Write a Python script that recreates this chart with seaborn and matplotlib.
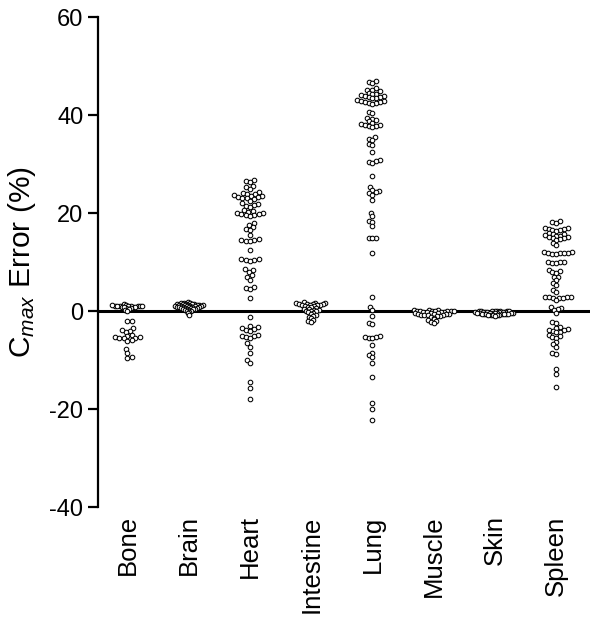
import numpy as np
import pandas as pd
import matplotlib
matplotlib.use("Agg")
import matplotlib.pyplot as plt
import seaborn as sns

categories = ["Bone", "Brain", "Heart", "Intestine", "Lung", "Muscle", "Skin", "Spleen"]

bone = [1.4, 1.2, 1.1, 1.0, 1.0, 0.9, 1.1, 1.0, 0.8, 1.2, 0.9, 1.0, 1.1, 0.7, 0.6, 0.8, 1.0, 0.5,
        0.3, 0.1,
        -2.0, -2.0, -3.4, -4.0, -4.2, -3.8, -4.8, -5.0, -5.4, -5.5, -5.6, -5.5, -5.4, -6.0, -6.1,
        -7.8, -8.6, -9.4, -9.5]
brain = [1.8, 1.7, 1.6, 1.6, 1.5, 1.5, 1.4, 1.4, 1.4, 1.3, 1.3, 1.3, 1.2, 1.2, 1.2, 1.1, 1.1, 1.1,
         1.0, 1.0, 1.0, 0.9, 0.9, 0.9, 0.8, 0.8, 0.8, 0.7, 0.7, 0.6, 0.6, 0.5, 0.5, 0.4, 0.4, 0.3,
         0.2, 0.1, 0.0, -0.2, -0.5, -0.9]
heart = [26.7, 26.5, 26.4, 25.6, 25.3, 25.0,
         24.2, 24.0, 23.9, 23.8, 23.6, 23.5, 23.4, 23.3, 23.2, 23.1, 23.0, 22.8,
         22.4, 22.0, 21.8, 21.6, 21.5, 21.2,
         20.6, 20.4, 20.2, 20.0, 19.9, 19.8, 19.7, 19.6, 19.5, 19.4,
         18.0, 17.6, 17.2, 16.8, 16.5, 15.5,
         14.6, 14.5, 14.4, 14.3, 14.2, 12.4,
         10.7, 10.6, 10.5, 10.4, 10.3, 8.5, 8.3, 8.0, 7.3, 7.0, 6.3,
         4.8, 4.6, 4.5, 2.7, -1.2,
         -3.0, -3.2, -3.4, -3.6, -3.8, -4.0,
         -4.8, -5.0, -5.2, -5.4, -5.6, -6.6, -7.3, -8.6, -10.0, -10.6,
         -14.5, -15.7, -18.0]
intestine = [1.8, 1.7, 1.6, 1.6, 1.5, 1.5, 1.4, 1.4, 1.3, 1.3, 1.2, 1.2, 1.1, 1.0, 0.9, 0.8,
             0.6, 0.5, 0.4, 0.3, 0.2, 0.1, 0.0, -0.1, -0.3, -0.4, -0.6, -0.8, -1.0, -1.2,
             -1.5, -1.8, -2.0, -2.2]
lung = [47.0, 46.7, 46.5, 45.5, 45.2, 45.0, 44.8,
        44.5, 44.3, 44.2, 44.0, 43.9, 43.8, 43.7, 43.6, 43.5, 43.4,
        43.0, 42.9, 42.8, 42.7, 42.6, 42.5, 42.4, 42.3,
        40.7, 40.5, 39.4, 39.2, 38.9, 38.7,
        38.4, 38.2, 38.0, 37.9, 37.8, 37.7, 37.6,
        35.5, 35.2, 34.9, 34.0, 33.8, 32.4,
        30.8, 30.6, 30.4, 30.2, 27.5, 25.3,
        24.7, 24.4, 24.2, 24.0, 23.7, 22.6, 20.0, 19.3, 18.3, 18.1, 17.3,
        15.0, 14.9, 14.8, 11.8, 2.9, 0.8, 0.2, -1.0, -2.4, -2.6,
        -5.2, -5.3, -5.4, -5.5, -5.6, -6.9, -8.5, -9.0, -9.4, -10.6, -13.4,
        -18.8, -20.0, -22.2]
muscle = [0.3, 0.2, 0.2, 0.1, 0.1, 0.0, 0.0, 0.0, -0.1, -0.1, -0.2, -0.2, -0.3, -0.3, -0.4,
          -0.5, -0.5, -0.6, -0.6, -0.7, -0.7, -0.8, -0.8, -0.9, -0.9, -1.0, -1.1, -1.2, -1.4,
          -1.6, -1.8, -2.0, -2.2, -2.4]
skin = [0.1, 0.1, 0.0, 0.0, 0.0, -0.1, -0.1, -0.1, -0.2, -0.2, -0.2, -0.3, -0.3, -0.3, -0.3,
        -0.4, -0.4, -0.4, -0.4, -0.5, -0.5, -0.5, -0.5, -0.6, -0.6, -0.6, -0.6, -0.7, -0.7,
        -0.7, -0.8, -0.8, -0.8, -0.9, -0.9, -1.0]
spleen = [18.3, 18.1, 17.9, 17.0, 16.9, 16.8, 16.7, 16.6, 16.5, 16.4,
          16.0, 15.8, 15.7, 15.5, 15.4, 15.3, 15.2, 15.1, 14.9, 14.8, 14.6, 14.5, 13.9, 13.5,
          12.1, 12.0, 11.9, 11.9, 11.8, 11.8, 11.7, 11.6, 10.1, 10.0, 9.9, 9.8, 9.7,
          8.4, 8.2, 8.0, 7.8, 7.0, 6.9, 6.3, 5.8, 5.3, 4.3, 3.9,
          2.9, 2.9, 2.8, 2.8, 2.7, 2.7, 2.6, 2.2, 0.8, 0.6, 0.4, 0.2, -0.4,
          -2.2, -2.4, -3.3, -3.5, -3.6, -3.8, -3.9, -4.0, -4.2, -4.3,
          -4.9, -5.1, -5.3, -5.5, -6.3, -6.8, -7.3, -8.5, -8.7, -11.8, -12.9, -15.5]

y_ticks = [-40, -20, 0, 20, 40, 60]

series = [bone, brain, heart, intestine, lung, muscle, skin, spleen]
df = pd.DataFrame({
    "tissue": np.concatenate([[c] * len(v) for c, v in zip(categories, series)]),
    "error": np.concatenate(series),
})

# marker spacing used for the swarm layout: (near-zero band, rest);
# denser groups are laid out tighter so their markers overlap
layout_size = {"Bone": (0.9, 2.3), "Brain": (0.8, 0.8), "Heart": (2.3, 2.3),
               "Intestine": (1.3, 1.3), "Lung": (2.0, 2.0), "Muscle": (1.5, 1.5),
               "Skin": (0.8, 0.8), "Spleen": (2.0, 2.0)}

sns.set_style("ticks")
plt.rcParams["font.family"] = ["Liberation Sans", "DejaVu Sans"]
plt.rcParams["mathtext.fontset"] = "custom"
plt.rcParams["mathtext.rm"] = "Liberation Sans"
plt.rcParams["mathtext.it"] = "Liberation Sans:italic"
for k in ["text.color", "axes.labelcolor", "xtick.color", "ytick.color", "axes.edgecolor"]:
    plt.rcParams[k] = "black"

fig = plt.figure(figsize=(6.0, 6.21), dpi=100)
ax = fig.add_axes([98 / 600, 1 - 507 / 621, (590 - 98) / 600, (507 - 17) / 621])

ax.axhline(0, color="black", lw=2.2, zorder=1)
for cat in categories:
    sub = df[df["tissue"] == cat]
    near = sub["error"] > -1.6
    for part, sz in zip([sub[near], sub[~near]], layout_size[cat]):
        if len(part) == 0:
            continue
        sns.swarmplot(data=part, x="tissue", y="error", order=categories,
                      color="white", edgecolor="black", linewidth=0.75,
                      size=sz, ax=ax, zorder=3)

ax.set_xlim(-0.48, 7.55)
ax.set_ylim(-40, 60)
ax.set_yticks(y_ticks)
ax.set_yticklabels([str(t) for t in y_ticks])
ax.set_xlabel("")
ax.set_ylabel(r"$\mathrm{C}_{max}$ Error (%)", fontsize=21.5, labelpad=8)

for s in ["top", "right", "bottom"]:
    ax.spines[s].set_visible(False)
ax.spines["left"].set_linewidth(1.6)
ax.tick_params(axis="y", length=7.5, width=1.6, labelsize=17, pad=3)
ax.tick_params(axis="x", length=0, labelsize=18.5, pad=6, labelrotation=90)

# compute the swarm layout once, then freeze it and draw the markers at
# their final size so dense groups overlap as in the reference
fig.canvas.draw()
for coll in ax.collections:
    if "draw" in coll.__dict__:
        del coll.draw
    coll.set_sizes([3.3 ** 2])

fig.savefig("out.png", dpi=100)
